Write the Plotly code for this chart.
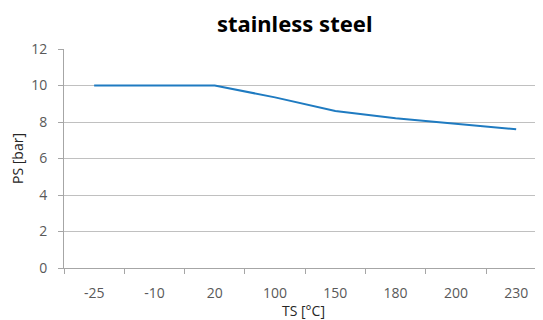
import plotly.graph_objects as go

temps = ["-25", "-10", "20", "100", "150", "180", "200", "230"]
pressure = [10, 10, 10, 9.35, 8.6, 8.2, 7.9, 7.6]

fig = go.Figure()
fig.add_trace(
    go.Scatter(
        x=temps,
        y=pressure,
        mode="lines",
        line=dict(color="#1f7bc1", width=2),
        showlegend=False,
    )
)

# page body has an 8px margin, so the figure is a bit smaller than the window
fig.update_layout(
    width=535,
    height=312,
    margin=dict(l=56, r=0, t=41, b=52),
    paper_bgcolor="white",
    plot_bgcolor="white",
    font=dict(family="Open Sans", size=14, color="#595959"),
    title=dict(
        text="<b>stainless steel</b>",
        x=0.536,
        xref="container",
        xanchor="center",
        y=0.972,
        yref="container",
        yanchor="top",
        font=dict(family="Noto Sans", size=22, color="#000000"),
    ),
)

fig.update_xaxes(
    type="category",
    range=[-0.5, 7.445],
    title=dict(text="TS [°C]", standoff=2, font=dict(size=14, color="#262626")),
    showline=True,
    linecolor="#a6a6a6",
    ticks="outside",
    tickson="boundaries",
    ticklen=5,
    tickcolor="#a6a6a6",
    ticklabelstandoff=12,
    showgrid=False,
    tickfont=dict(size=14, color="#595959"),
)

fig.update_yaxes(
    range=[0, 12],
    dtick=2,
    title=dict(text="PS [bar]", standoff=10, font=dict(size=14, color="#262626")),
    showline=True,
    linecolor="#a6a6a6",
    ticks="outside",
    ticklen=5,
    tickcolor="#a6a6a6",
    ticklabelstandoff=8,
    gridcolor="#c0c0c0",
    zeroline=False,
    tickfont=dict(size=14, color="#595959"),
)

fig.write_html("out.html")
